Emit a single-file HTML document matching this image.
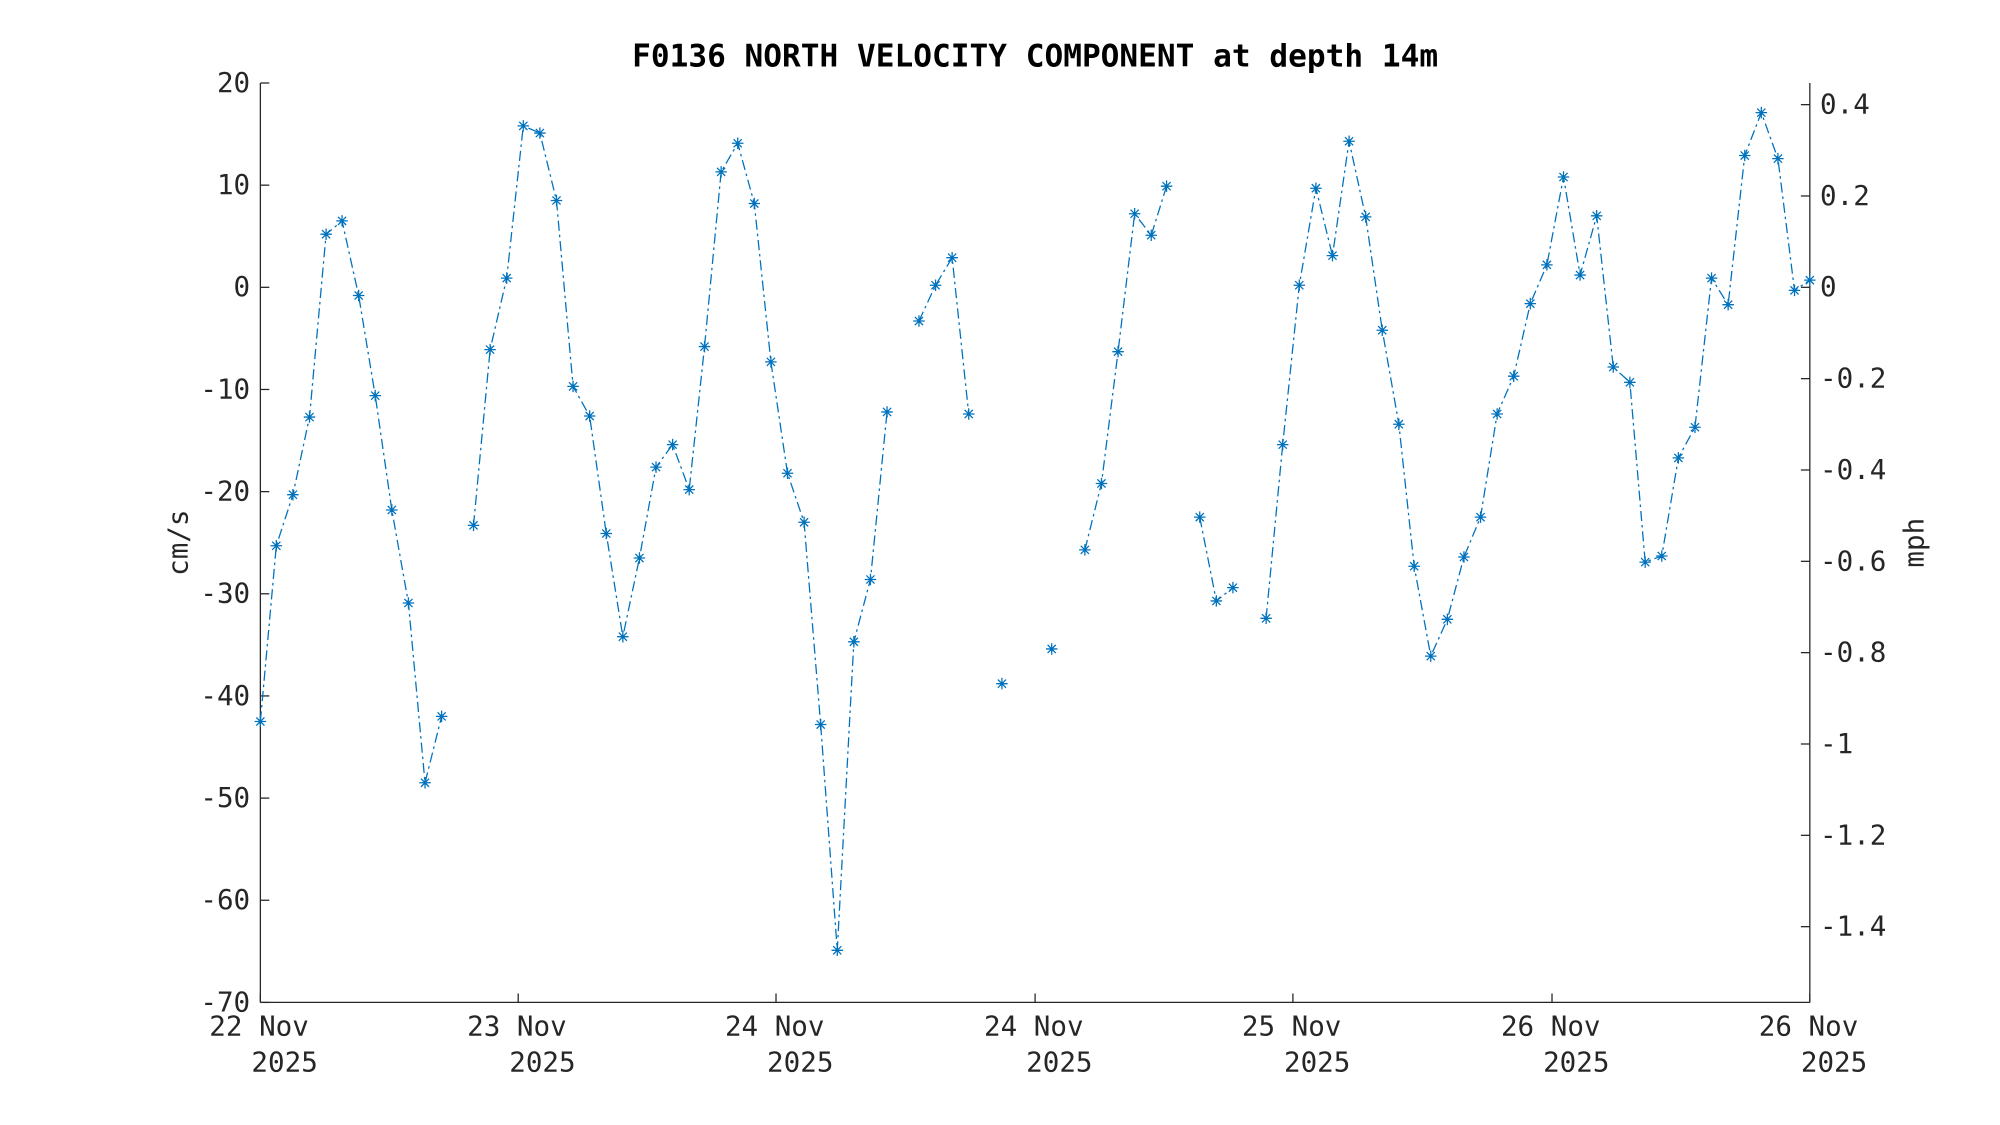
<!DOCTYPE html>
<html><head><meta charset="utf-8"><style>html,body{margin:0;padding:0;background:#fff}svg{display:block}</style></head>
<body>
<svg id="s" xmlns="http://www.w3.org/2000/svg" width="2000" height="1125" viewBox="0 0 1567 881" preserveAspectRatio="none" font-family="'DejaVu Sans Mono','Liberation Mono',monospace">
<rect width="1567" height="881" fill="#fff"/>
<text x="811" y="52" text-anchor="middle" font-size="24.4" font-weight="bold" fill="#000">F0136 NORTH VELOCITY COMPONENT at depth 14m</text>
<g stroke="#262626" stroke-width="1" fill="none">
<line x1="204" y1="65" x2="204" y2="785"/>
<line x1="1418" y1="65" x2="1418" y2="785"/>
<line x1="204" y1="785" x2="1418" y2="785"/>
</g>
<g id="ax" font-size="21.6" fill="#262626"></g>
<text transform="translate(147,425) rotate(-90)" text-anchor="middle" font-size="21.6" fill="#262626">cm/s</text>
<text transform="translate(1507,425) rotate(-90)" text-anchor="middle" font-size="21.6" fill="#262626">mph</text>
<g id="d"></g>
</svg>
<script>
var NS="http://www.w3.org/2000/svg";
function el(p,t,a,txt){var e=document.createElementNS(NS,t);for(var k in a)e.setAttribute(k,a[k]);if(txt!=null)e.textContent=txt;p.appendChild(e);return e;}
var ax=document.getElementById('ax'),d=document.getElementById('d');
function Y(v){return 65+(20-v)*8;}
for(var v=20;v>=-70;v-=10){var y=Y(v);el(ax,'line',{x1:204,y1:y,x2:211,y2:y,stroke:'#262626'});el(ax,'text',{x:196,y:y+7,'text-anchor':'end'},String(v));}
[0.4,0.2,0,-0.2,-0.4,-0.6,-0.8,-1,-1.2,-1.4].forEach(function(m){var y=Y(m*44.704);el(ax,'line',{x1:1411,y1:y,x2:1418,y2:y,stroke:'#262626'});el(ax,'text',{x:1426,y:y+7},String(m));});
var tx=[204,406,608,811,1013,1216,1418],tl=['22 Nov','23 Nov','24 Nov','24 Nov','25 Nov','26 Nov','26 Nov'];
tx.forEach(function(x,i){el(ax,'line',{x1:x,y1:778,x2:x,y2:785,stroke:'#262626'});el(ax,'text',{x:x-1,y:811,'text-anchor':'middle'},tl[i]);el(ax,'text',{x:x-7,y:839},'2025');});
var P=[[204,-42.5],[216.5,-25.3],[229.5,-20.3],[242.5,-12.7],[255.5,5.2],[268,6.5],[281,-0.8],[294,-10.6],[307,-21.8],[320,-30.9],[333,-48.5],[346,-42],null,
[371,-23.3],[384,-6.1],[397,0.9],[410,15.8],[423,15.1],[436,8.5],[449,-9.7],[462,-12.6],[475,-24.1],[488,-34.2],[501,-26.5],[514,-17.6],[527,-15.4],[540,-19.8],[552,-5.8],[565,11.3],[578,14.1],[591,8.2],[604,-7.3],[617,-18.2],[630,-23],[643,-42.8],[656,-64.9],[669,-34.7],[682,-28.6],[695,-12.2],null,
[720,-3.3],[733,0.2],[746,2.9],[759,-12.4],null,[785,-38.8],null,[824,-35.4],null,
[850,-25.7],[863,-19.2],[876,-6.3],[889,7.2],[902,5.1],[914,9.9],null,[940,-22.5],[953,-30.7],[966,-29.4],null,
[992,-32.4],[1005,-15.4],[1018,0.2],[1031,9.7],[1044,3.1],[1057,14.3],[1070,6.9],[1083,-4.2],[1096,-13.4],[1108,-27.3],[1121,-36.1],[1134,-32.5],[1147,-26.4],[1160,-22.5],[1173,-12.4],[1186,-8.7],[1199,-1.6],[1212,2.2],[1225,10.8],[1238,1.2],[1251,7],[1264,-7.8],[1277,-9.3],[1289,-26.9],[1302,-26.3],[1315,-16.7],[1328,-13.7],[1341,0.9],[1354,-1.7],[1367,12.9],[1380,17.1],[1393,12.6],[1406,-0.3],[1418,0.7]];
var path='',prev=false;
P.forEach(function(p){if(!p){prev=false;return;}path+=(prev?'L':'M')+p[0]+' '+Y(p[1]).toFixed(1)+' ';prev=true;});
el(d,'path',{d:path,fill:'none',stroke:'#0072BD','stroke-width':1,'stroke-dasharray':'8 3 2 3'});
var m='';
P.forEach(function(p){if(!p)return;var x=p[0],y=Y(p[1]),r=4.5,q=3.2;
m+='M'+(x-r)+' '+y+'H'+(x+r)+'M'+x+' '+(y-r)+'V'+(y+r)+'M'+(x-q)+' '+(y-q)+'L'+(x+q)+' '+(y+q)+'M'+(x-q)+' '+(y+q)+'L'+(x+q)+' '+(y-q);});
el(d,'path',{d:m,fill:'none',stroke:'#0072BD','stroke-width':1});
</script>
</body></html>
